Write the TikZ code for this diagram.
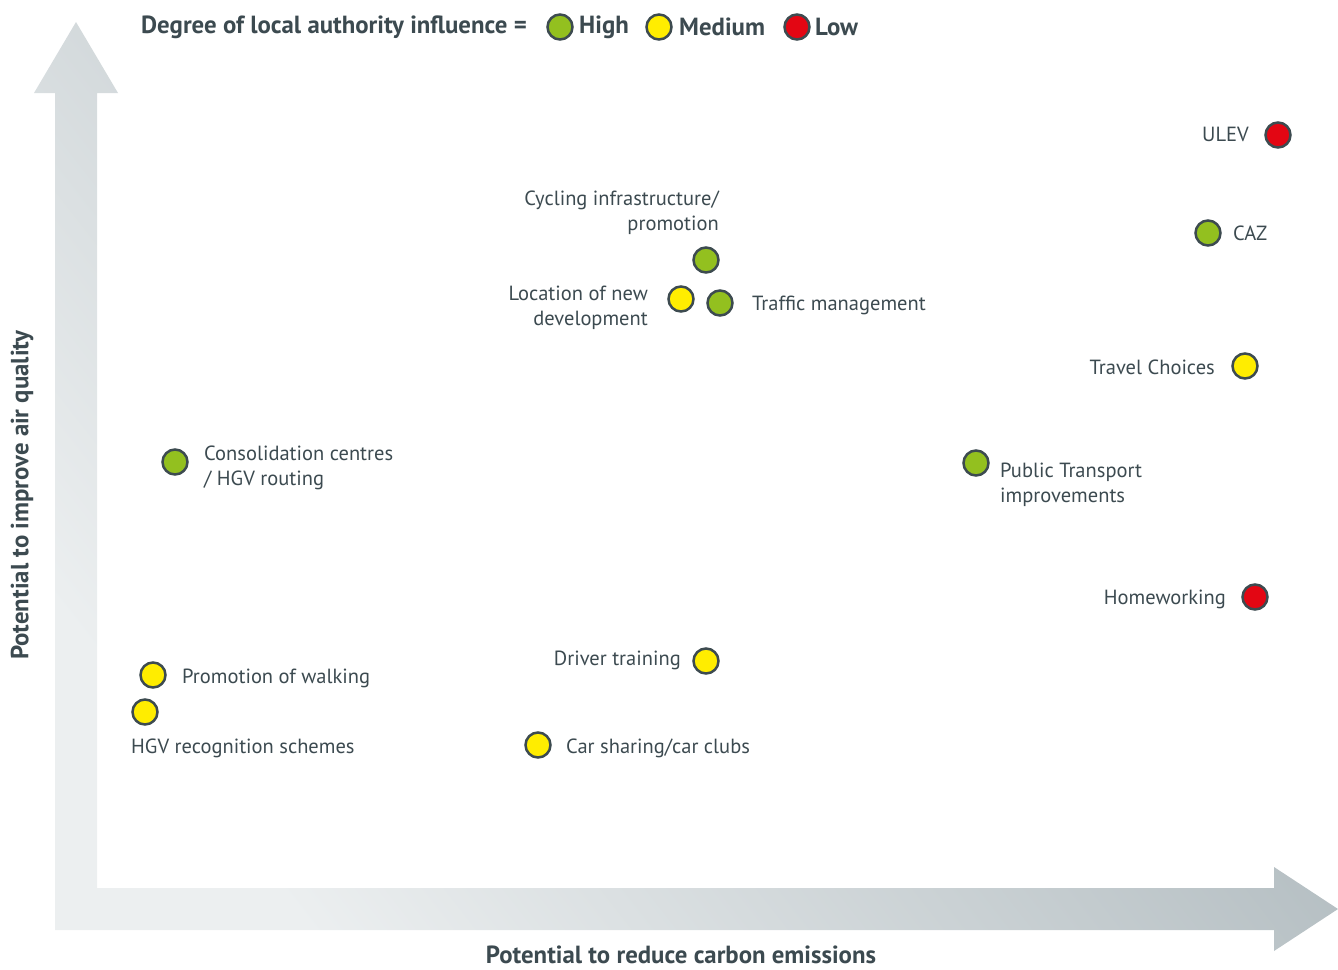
\documentclass[tikz,border=0pt]{standalone}
\usepackage{fontspec}
\setmainfont{PT Sans}
\definecolor{txt}{HTML}{3C4A50}
\definecolor{ring}{HTML}{3D4B50}
\definecolor{hi}{HTML}{93C01F}
\definecolor{med}{HTML}{FFED00}
\definecolor{lo}{HTML}{E30613}
\definecolor{arlight}{HTML}{ECEFF0}
\definecolor{ardark}{HTML}{A2AEB3}
\begin{document}
\begin{tikzpicture}[x=1pt,y=-1pt,
  dot/.style={circle,draw=ring,line width=2.5pt,minimum size=25pt,inner sep=0pt},
  lab/.style={text=txt,inner sep=0pt,font=\fontsize{20.5}{25}\selectfont},
  ttl/.style={text=txt,inner sep=0pt,font=\bfseries\fontsize{24.8}{28}\selectfont}]
\useasboundingbox (0,0) rectangle (1338,969);
\shade[bottom color=arlight, top color=ardark, shading angle=-52]
  (34,93) -- (76,22) -- (118,93) -- (97,93) -- (97,888) -- (1274,888) -- (1274,867)
  -- (1338,909) -- (1274,951) -- (1274,930) -- (55,930) -- (55,93) -- cycle;
% legend
\node[ttl,anchor=west] (title) at (141,27) {Degree of local authority influence =};
\node[dot,fill=hi] (lh) at (560,27) {};
\node[ttl,anchor=west] (lht) at (579,27) {High};
\node[dot,fill=med] (lm) at (659,27) {};
\node[ttl,anchor=west] (lmt) at (679,27) {Medium};
\node[dot,fill=lo] (ll) at (797,27) {};
\node[ttl,anchor=west] (llt) at (815,27) {Low};
% axis labels
\node[ttl,anchor=base] (xl) at (681,963) {Potential to reduce carbon emissions};
\node[ttl,rotate=90] (yl) at (22,495) {Potential to improve air quality};
% points
\node[dot,fill=lo] (ulev) at (1278,135) {};
\node[lab,anchor=east] (ulevt) at (1249,134) {ULEV};
\node[dot,fill=hi] (caz) at (1208,233) {};
\node[lab,anchor=west] (cazt) at (1233,233) {CAZ};
\node[dot,fill=hi] (cyc) at (706,260) {};
\node[lab,anchor=east,align=right] (cyct) at (719,213) {Cycling infrastructure/\\promotion};
\node[dot,fill=med] (loc) at (681,299) {};
\node[lab,anchor=east,align=right] (loct) at (648,308) {Location of new\\development};
\node[dot,fill=hi] (tra) at (720,303) {};
\node[lab,anchor=west] (trat) at (752,305) {Traffic management};
\node[dot,fill=med] (tc) at (1245,366) {};
\node[lab,anchor=east] (tct) at (1215,367) {Travel Choices};
\node[dot,fill=hi] (con) at (175,462) {};
\node[lab,anchor=west,align=left] (cont) at (204,468) {Consolidation centres\\/ HGV routing};
\node[dot,fill=hi] (pt) at (976,463) {};
\node[lab,anchor=west,align=left] (ptt) at (1000,485) {Public Transport\\improvements};
\node[dot,fill=lo] (hw) at (1255,597) {};
\node[lab,anchor=east] (hwt) at (1226,599) {Homeworking};
\node[dot,fill=med] (dt) at (706,661) {};
\node[lab,anchor=east] (dtt) at (681,660) {Driver training};
\node[dot,fill=med] (pw) at (153,675) {};
\node[lab,anchor=west] (pwt) at (182,678) {Promotion of walking};
\node[dot,fill=med] (hgv) at (145,712) {};
\node[lab,anchor=west] (hgvt) at (131,748) {HGV recognition schemes};
\node[dot,fill=med] (cs) at (538,745) {};
\node[lab,anchor=west] (cst) at (566,748) {Car sharing/car clubs};
\end{tikzpicture}
\end{document}
